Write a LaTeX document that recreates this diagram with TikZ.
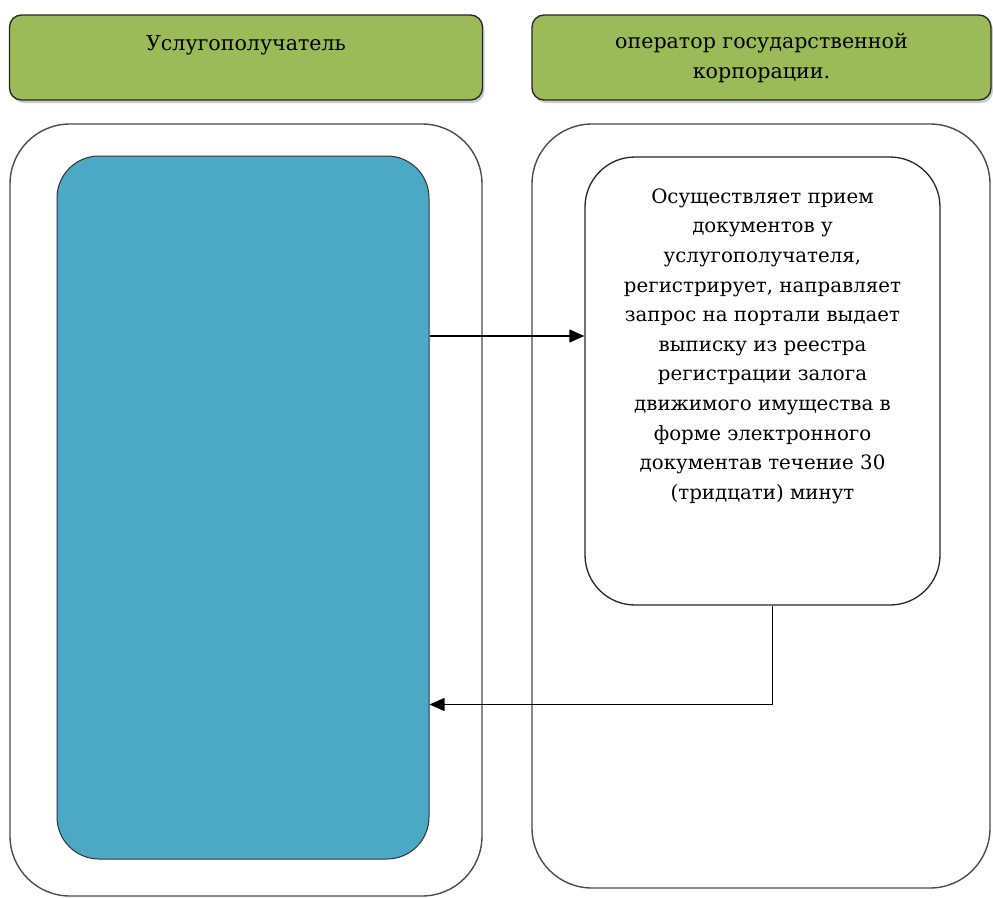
\documentclass[tikz,border=0pt]{standalone}
\usepackage{fontspec}
\setmainfont{DejaVu Serif}
\usetikzlibrary{shapes,arrows.meta,positioning,shadows}
\definecolor{hdrgreen}{RGB}{155,187,89}
\definecolor{stepblue}{RGB}{75,169,198}

\begin{document}
\begin{tikzpicture}[
    x=1pt, y=-1pt,
    header/.style={rectangle, draw=black!85, fill=hdrgreen, line width=1.3pt, rounded corners=12pt, drop shadow={shadow xshift=2pt, shadow yshift=-3pt, opacity=0.4}, minimum height=85pt, align=center, font=\fontsize{20.6}{30}\selectfont},
    lane/.style={rectangle, draw=black!70, line width=1.4pt, rounded corners=60pt},
    actor/.style={rectangle, draw=black!80, fill=stepblue, line width=1pt, rounded corners=42pt},
    procbox/.style={rectangle, draw=black!85, line width=1.3pt, rounded corners=50pt, minimum width=355pt, minimum height=448pt},
    proctext/.style={align=center, inner sep=0pt, font=\fontsize{19.8}{29.6}\selectfont},
    flow/.style={draw=black, line width=1.2pt, -{Triangle[length=15pt,width=13pt]}}
]
\useasboundingbox (0,0) rectangle (993,897);

% Headers
\node (hdrA) [header, minimum width=473pt] at (246,57.5) {Услугополучатель\\~};
\node (hdrB) [header, minimum width=459pt] at (761.5,57.5) {оператор государственной\\корпорации.};

% Lanes
\node (laneA) [lane, minimum width=472pt, minimum height=772pt] at (246,510) {};
\node (laneB) [lane, minimum width=458pt, minimum height=764pt] at (761,506) {};

% Steps
\node (client) [actor, minimum width=372pt, minimum height=703pt] at (243,507.5) {};
\node (proc) [procbox] at (762.5,381) {};
\node (proclbl) [proctext, below=32pt of proc.north] {Осуществляет прием\\документов у\\услугополучателя,\\регистрирует, направляет\\запрос на портали выдает\\выписку из реестра\\регистрации залога\\движимого имущества в\\форме электронного\\документав течение 30\\(тридцати) минут};

% Arrows
\coordinate (inA) at ([yshift=45pt]proc.west);
\draw[flow] (client.east |- inA) -- (inA);
\draw[flow] ([xshift=10pt]proc.south) |- ([yshift=-197pt]client.east);

\end{tikzpicture}
\end{document}
